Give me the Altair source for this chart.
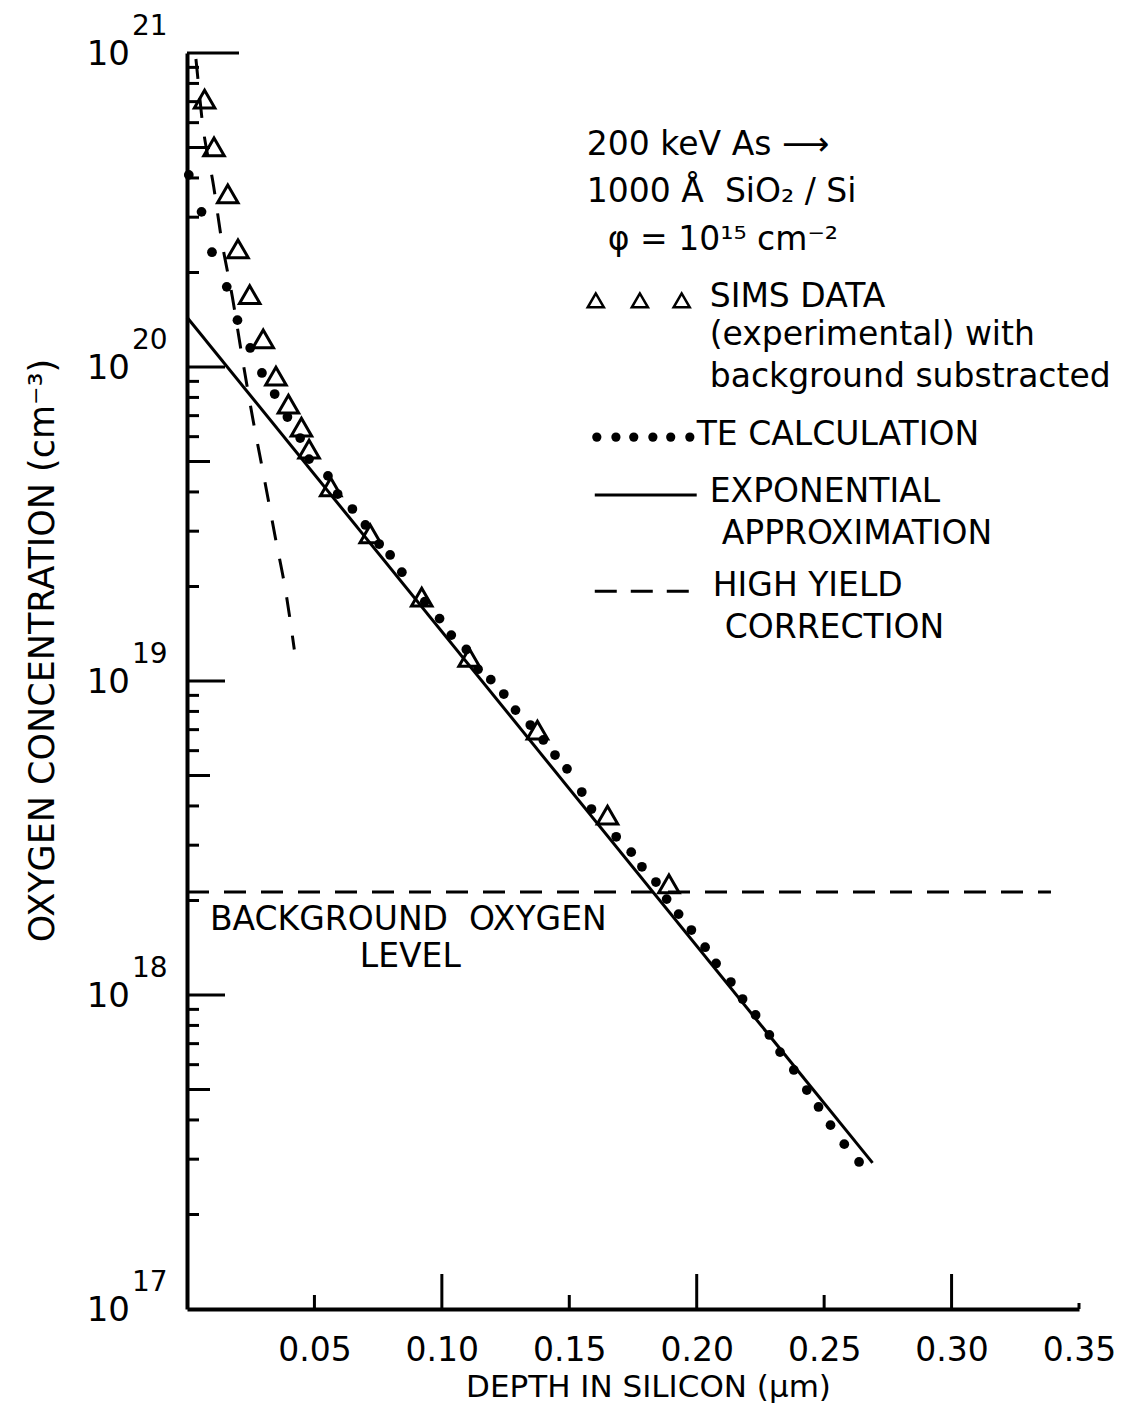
import altair as alt
import pandas as pd

FONT = "DejaVu Sans"
W, H = 892, 1256

# ---------------- axes ----------------
x_domain = [0.0, 0.35]
y_domain = [1e17, 1e21]
x_label_values = [0.05, 0.10, 0.15, 0.20, 0.25, 0.30, 0.35]
x_major_ticks = [0.10, 0.20, 0.30]
x_minor_ticks = [0.05, 0.15, 0.25]
x_end_ticks = [0.35]

y_decade_values = [1e17, 1e18, 1e19, 1e20, 1e21]
y_decade_exponents = ["17", "18", "19", "20", "21"]
y_major_ticks = [1e18, 1e19, 1e20]
y_top_tick = [1e21]
y_half_ticks = [5e17, 5e18, 5e19, 5e20]
y_minor_ticks = [2e17, 3e17, 4e17, 6e17, 7e17, 8e17, 9e17,
                 2e18, 3e18, 4e18, 6e18, 7e18, 8e18, 9e18,
                 2e19, 3e19, 4e19, 6e19, 7e19, 8e19, 9e19,
                 2e20, 3e20, 4e20, 6e20, 7e20, 8e20, 9e20]

# ---------------- data ----------------
sims_depth = [0.0069, 0.0106, 0.0160, 0.0200, 0.0246, 0.0299, 0.0349, 0.0398, 0.0449,
              0.0479, 0.0564, 0.0719, 0.0921, 0.1107, 0.1375, 0.1650, 0.1891]
sims_conc = [7.13e20, 5.02e20, 3.56e20, 2.38e20, 1.70e20, 1.23e20, 9.36e19, 7.62e19, 6.44e19,
             5.48e19, 4.15e19, 2.94e19, 1.85e19, 1.19e19, 6.98e18, 3.74e18, 2.26e18]

te_depth = [0.0007, 0.0057, 0.0098, 0.0156, 0.0198, 0.0248, 0.0294, 0.0344, 0.0394, 0.0444,
            0.0479, 0.0553, 0.0591, 0.0649, 0.0700, 0.0754, 0.0797, 0.0843, 0.0933, 0.0991,
            0.1037, 0.1096, 0.1142, 0.1192, 0.1243, 0.1289, 0.1347, 0.1398, 0.1444, 0.1491,
            0.1549, 0.1587, 0.1684, 0.1743, 0.1785, 0.1840, 0.1882, 0.1929, 0.1979, 0.2033,
            0.2076, 0.2134, 0.2180, 0.2231, 0.2285, 0.2327, 0.2381, 0.2432, 0.2478, 0.2525,
            0.2579, 0.2637]
te_conc = [4.09e20, 3.12e20, 2.32e20, 1.80e20, 1.41e20, 1.15e20, 9.57e19, 8.20e19, 6.93e19, 5.94e19,
           5.09e19, 4.50e19, 3.94e19, 3.53e19, 3.14e19, 2.73e19, 2.52e19, 2.22e19, 1.79e19, 1.58e19,
           1.40e19, 1.26e19, 1.09e19, 1.01e19, 9.09e18, 8.08e18, 7.24e18, 6.49e18, 5.81e18, 5.25e18,
           4.43e18, 3.91e18, 3.19e18, 2.85e18, 2.56e18, 2.29e18, 2.02e18, 1.81e18, 1.61e18, 1.42e18,
           1.26e18, 1.10e18, 9.71e17, 8.64e17, 7.46e17, 6.58e17, 5.77e17, 4.98e17, 4.40e17, 3.85e17,
           3.35e17, 2.94e17]

exp_depth = [0.0, 0.269]
exp_conc = [1.44e20, 2.92e17]

hy_depth = [0.0035, 0.0046, 0.0057, 0.0105, 0.0134, 0.0178, 0.0216, 0.0257, 0.0302, 0.0346, 0.0391, 0.0421]
hy_conc = [9.57e20, 7.80e20, 6.36e20, 3.74e20, 2.59e20, 1.67e20, 1.08e20, 6.93e19, 4.47e19, 2.88e19, 1.85e19, 1.26e19]

bg_depth = [0.0, 0.339]
bg_conc = [2.13e18, 2.13e18]

# ---------------- annotations ----------------
caps_text = ["SIMS DATA", "TE CALCULATION", "EXPONENTIAL", "APPROXIMATION",
             "HIGH YIELD", "CORRECTION", "BACKGROUND\u00a0\u00a0OXYGEN", "LEVEL"]
caps_x = [0.2051, 0.2000, 0.2051, 0.2098, 0.2063, 0.2110, 0.0090, 0.0678]
caps_y = [1.67e20, 6.08e19, 4.0e19, 2.94e19, 2.0e19, 1.47e19, 1.73e18, 1.32e18]

mixed_text = ["200 keV As \u27f6", "1000\u00a0Å\u00a0\u00a0SiO₂ / Si", "φ = 10¹⁵ cm⁻²",
              "(experimental) with", "background substracted"]
mixed_x = [0.1569, 0.1569, 0.1651, 0.2051, 0.2051]
mixed_y = [5.09e20, 3.61e20, 2.54e20, 1.26e20, 9.29e19]

legend_tri_x = [0.1604, 0.1777, 0.1941]
legend_tri_y = [1.63e20, 1.63e20, 1.63e20]
legend_dot_x = [0.1608, 0.1683, 0.1753, 0.1828, 0.1898, 0.1973]
legend_dot_y = [5.98e19] * 6
legend_solid = {"x": [0.1600], "x2": [0.2000], "y": [3.91e19]}
legend_dash = {"x": [0.1600], "x2": [0.2000], "y": [1.93e19]}

# ---------------- chart ----------------
xs = alt.Scale(domain=x_domain, nice=False, zero=False)
ys = alt.Scale(type="log", domain=y_domain, nice=False)

x_axis = alt.Axis(values=x_label_values, format=".2f", labelFontSize=33, labelPadding=25,
                  ticks=False, grid=False, labelFlush=False, labelOverlap=False,
                  title="DEPTH IN SILICON (μm)", titleFontSize=31, titleFontWeight="normal",
                  titlePadding=5, titleX=461, domainWidth=4, domainColor="black",
                  labelColor="black", titleColor="black", labelFont=FONT, titleFont=FONT)
y_axis = alt.Axis(labels=False, ticks=False, grid=False,
                  title="OXYGEN CONCENTRATION (cm⁻³)", titleFontSize=35, titleFontWeight="normal",
                  titlePadding=127, titleY=597, domainWidth=4, domainColor="black",
                  titleColor="black", titleFont=FONT)


def X(f="x"):
    return alt.X(f"{f}:Q", scale=xs, axis=x_axis)


def Y(f="y"):
    return alt.Y(f"{f}:Q", scale=ys, axis=y_axis)


exp_line = alt.Chart(pd.DataFrame({"x": exp_depth, "y": exp_conc})).mark_line(
    color="black", strokeWidth=3).encode(x=X(), y=Y())

bg_line = alt.Chart(pd.DataFrame({"x": bg_depth, "y": bg_conc})).mark_line(
    color="black", strokeWidth=3, strokeDash=[22, 15]).encode(x=X(), y=Y())

hy_line = alt.Chart(pd.DataFrame({"x": hy_depth, "y": hy_conc})).mark_line(
    color="black", strokeWidth=3, strokeDash=[20, 19], interpolate="monotone").encode(x=X(), y=Y())

te_pts = alt.Chart(pd.DataFrame({"x": te_depth, "y": te_conc})).mark_circle(
    color="black", size=95, opacity=1).encode(x=X(), y=Y())

sims_pts = alt.Chart(pd.DataFrame({"x": sims_depth, "y": sims_conc})).mark_point(
    shape="triangle-up", filled=False, color="black", size=420, strokeWidth=3, opacity=1
).encode(x=X(), y=Y())


def ytick_layer(vals, length):
    return alt.Chart(pd.DataFrame({"y": vals})).mark_rule(color="black", strokeWidth=3).encode(
        y=Y(), x=alt.value(0), x2=alt.value(length))


def xtick_layer(vals, length):
    return alt.Chart(pd.DataFrame({"x": vals})).mark_rule(color="black", strokeWidth=3).encode(
        x=X(), y=alt.value(H), y2=alt.value(H - length))


ylab_df = pd.DataFrame({"y": y_decade_values, "e": y_decade_exponents})
ylab_base = alt.Chart(ylab_df).mark_text(font=FONT, fontSize=34, align="right", baseline="middle",
                                         color="black", dy=2).encode(
    y=Y(), x=alt.value(-57), text=alt.value("10"))
ylab_exp = alt.Chart(ylab_df).mark_text(font=FONT, fontSize=28, align="left", baseline="middle",
                                        color="black", dy=-26).encode(
    y=Y(), x=alt.value(-55), text="e:N")

caps = alt.Chart(pd.DataFrame({"x": caps_x, "y": caps_y, "t": caps_text})).mark_text(
    font=FONT, fontSize=33, align="left", baseline="middle", color="black").encode(
    x=X(), y=Y(), text="t:N")
mixed = alt.Chart(pd.DataFrame({"x": mixed_x, "y": mixed_y, "t": mixed_text})).mark_text(
    font=FONT, fontSize=33, align="left", baseline="middle", color="black").encode(
    x=X(), y=Y(), text="t:N")

leg_tri = alt.Chart(pd.DataFrame({"x": legend_tri_x, "y": legend_tri_y})).mark_point(
    shape="triangle-up", filled=False, color="black", size=260, strokeWidth=2.5, opacity=1
).encode(x=X(), y=Y())
leg_dot = alt.Chart(pd.DataFrame({"x": legend_dot_x, "y": legend_dot_y})).mark_circle(
    color="black", size=85, opacity=1).encode(x=X(), y=Y())
leg_solid = alt.Chart(pd.DataFrame(legend_solid)).mark_rule(color="black", strokeWidth=3).encode(
    x=X(), x2="x2:Q", y=Y())
leg_dash = alt.Chart(pd.DataFrame(legend_dash)).mark_rule(
    color="black", strokeWidth=3, strokeDash=[22, 14]).encode(x=X(), x2="x2:Q", y=Y())

chart = alt.layer(
    exp_line, bg_line, hy_line, te_pts, sims_pts,
    ytick_layer(y_major_ticks, 38), ytick_layer(y_top_tick, 52),
    ytick_layer(y_half_ticks, 23), ytick_layer(y_minor_ticks, 12),
    xtick_layer(x_major_ticks, 35), xtick_layer(x_minor_ticks, 14), xtick_layer(x_end_ticks, 6),
    ylab_base, ylab_exp, caps, mixed, leg_tri, leg_dot, leg_solid, leg_dash,
).properties(
    width=W, height=H,
    padding={"left": 179, "top": 45, "right": 39, "bottom": 97},
    autosize=alt.AutoSizeParams(type="none"),
    background="white",
).configure_view(stroke=None)

chart.save("out.html", embed_options={"renderer": "svg", "actions": False})
